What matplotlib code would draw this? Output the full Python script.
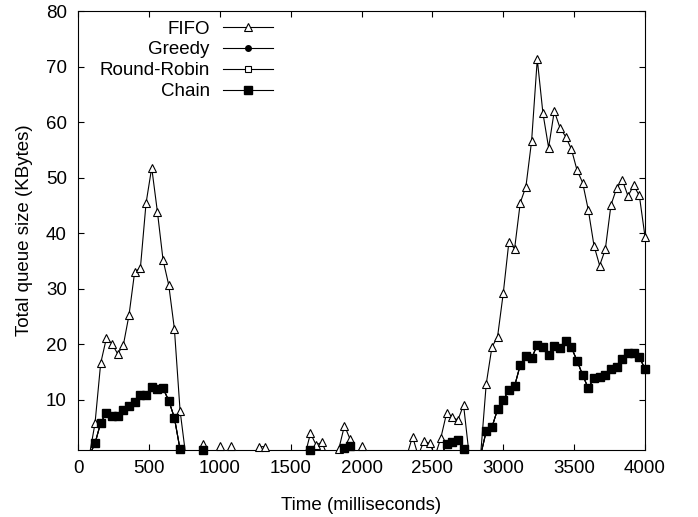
import numpy as np
import matplotlib
matplotlib.use("Agg")
import matplotlib.pyplot as plt

plt.rcParams['font.family'] = ['Liberation Sans', 'DejaVu Sans']

# time samples (ms), every 40 ms
time_ms = list(range(0, 4001, 40))

fifo_nonzero = {
    120: 5.8, 160: 16.6, 200: 21.1, 240: 20.1, 280: 18.3, 320: 19.9, 360: 25.3,
    400: 33.1, 440: 33.7, 480: 45.4, 520: 51.8, 560: 43.9, 600: 35.2, 640: 30.7,
    680: 22.8, 720: 8.1,
    880: 2.0, 1000: 1.8, 1080: 1.8, 1280: 1.6, 1320: 1.6,
    1640: 4.0, 1680: 1.9, 1720: 2.4,
    1840: 1.2, 1880: 5.4, 1920: 2.9, 2000: 1.8,
    2360: 3.4, 2440: 2.6, 2480: 2.2,
    2560: 3.2, 2600: 7.6, 2640: 6.9, 2680: 6.4, 2720: 9.1,
    2880: 12.9, 2920: 19.5, 2960: 21.4, 3000: 29.2, 3040: 38.5, 3080: 37.2,
    3120: 45.5, 3160: 48.4, 3200: 56.6, 3240: 71.3, 3280: 61.6, 3320: 55.4,
    3360: 62.0, 3400: 59.0, 3440: 57.4, 3480: 55.2, 3520: 51.4, 3560: 49.1,
    3600: 44.2, 3640: 37.8, 3680: 34.2, 3720: 37.1, 3760: 45.1, 3800: 48.1,
    3840: 49.6, 3880: 46.7, 3920: 48.6, 3960: 46.8, 4000: 39.4,
}

chain_nonzero = {
    120: 2.2, 160: 5.9, 200: 7.7, 240: 7.2, 280: 7.2, 320: 8.2, 360: 9.0,
    400: 9.7, 440: 10.9, 480: 10.9, 520: 12.4, 560: 12.0, 600: 12.1, 640: 9.9,
    680: 6.8, 720: 1.1,
    880: 1.05, 1640: 1.05, 1880: 1.4, 1920: 1.7,
    2600: 2.0, 2640: 2.5, 2680: 2.8, 2720: 1.1,
    2880: 4.4, 2920: 5.1, 2960: 8.3, 3000: 10.0, 3040: 11.8, 3080: 12.5,
    3120: 16.3, 3160: 17.9, 3200: 17.5, 3240: 19.9, 3280: 19.6, 3320: 18.1,
    3360: 19.8, 3400: 19.3, 3440: 20.7, 3480: 19.5, 3520: 17.1, 3560: 14.5,
    3600: 12.1, 3640: 14.0, 3680: 14.2, 3720: 14.5, 3760: 15.5, 3800: 15.9,
    3840: 17.3, 3880: 18.4, 3920: 18.5, 3960: 17.7, 4000: 15.6,
}

fifo = [fifo_nonzero.get(t, 0.0) for t in time_ms]
chain = [chain_nonzero.get(t, 0.0) for t in time_ms]
# Greedy and Round-Robin coincide with Chain in the picture (hidden beneath it)
greedy = list(chain)
round_robin = list(chain)

series = [
    ("FIFO", fifo, dict(marker='^', mfc='white', mec='black', ms=5.5, mew=0.8)),
    ("Greedy", greedy, dict(marker='o', mfc='black', mec='black', ms=4)),
    ("Round-Robin", round_robin, dict(marker='s', mfc='white', mec='black', ms=4.5, mew=0.8)),
    ("Chain", chain, dict(marker='s', mfc='black', mec='black', ms=5.2)),
]

YMIN, YMAX = 1, 80
FS = 13.5

fig = plt.figure(figsize=(6.98, 5.17), dpi=100)
ax = fig.add_axes([78/698, 1-450/517, (645-78)/698, (450-11)/517])

t = np.array(time_ms, dtype=float)
handles = []
for name, vals, st in series:
    v = np.array(vals, dtype=float)
    ax.plot(t, v, color='black', lw=0.8, clip_on=True, zorder=2)
    vm = np.where(v >= YMIN, v, np.nan)
    ax.plot(t, vm, linestyle='none', clip_on=False, zorder=3, **st)
    h, = ax.plot([], [], color='black', lw=0.8, **st)
    h.set_label(name)
    handles.append(h)

ax.set_xlim(0, 4000)
ax.set_ylim(YMIN, YMAX)
ax.set_xticks(np.arange(0, 4001, 500))
ax.set_yticks(np.arange(10, 81, 10))
ax.tick_params(direction='in', length=4.5, width=0.8, top=True, right=True,
               labelsize=FS)
ax.tick_params(axis='y', pad=8)
ax.tick_params(axis='x', pad=7)
for s in ax.spines.values():
    s.set_linewidth(0.8)

ax.set_xlabel("Time (milliseconds)", fontsize=FS, labelpad=14.5)
ax.set_ylabel("Total queue size (KBytes)", fontsize=FS, labelpad=9)

ax.legend(handles=handles, loc='upper right', bbox_to_anchor=((273-78)/567, (450-20.5)/439),
          frameon=False, markerfirst=False, handlelength=2.67, handletextpad=0.7,
          labelspacing=0.2, borderpad=0, borderaxespad=0, fontsize=FS)

fig.savefig("out.png", dpi=100)
